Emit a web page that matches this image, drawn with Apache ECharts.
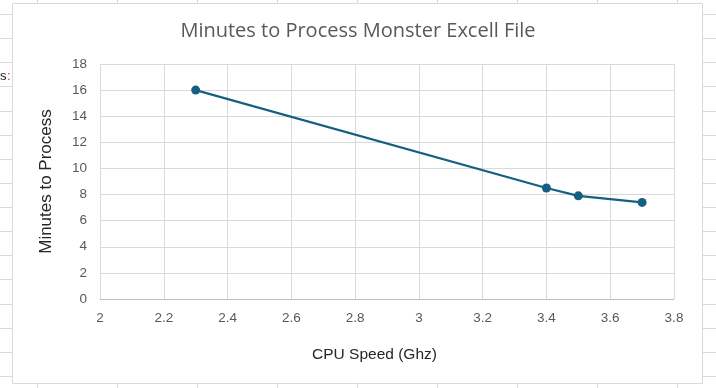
<!DOCTYPE html>
<html><head><meta charset="utf-8">
<script src="https://cdn.jsdelivr.net/npm/echarts@6/dist/echarts.min.js"></script>
<style>html,body{margin:0;padding:0;background:#fff;}#c{width:716px;height:388px;}</style>
</head><body><div id="c"></div>
<script>
var cpuSpeed = [2.3, 3.4, 3.5, 3.7];
var minutes = [16.0, 8.5, 7.9, 7.4];
var xTicks = [2, 2.2, 2.4, 2.6, 2.8, 3, 3.2, 3.4, 3.6, 3.8];
var yTicks = [0, 2, 4, 6, 8, 10, 12, 14, 16, 18];

var chart = echarts.init(document.getElementById('c'), null, {renderer: 'canvas'});

// spreadsheet background grid (only the parts outside the chart frame)
var bg = [];
for (var k = 0; k < 16; k++) {
  var yy = Math.round(14 + 24.13 * k) + 0.5;
  bg.push({type: 'line', silent: true, shape: {x1: 0, y1: yy, x2: 12, y2: yy}, style: {stroke: '#d9d9d9', lineWidth: 1}});
  bg.push({type: 'line', silent: true, shape: {x1: 703, y1: yy, x2: 716, y2: yy}, style: {stroke: '#d9d9d9', lineWidth: 1}});
}
for (var c = 0; c < 9; c++) {
  var xx = 37 + 80 * c + 0.5;
  bg.push({type: 'line', silent: true, shape: {x1: xx, y1: 0, x2: xx, y2: 3}, style: {stroke: '#d9d9d9', lineWidth: 1}});
  bg.push({type: 'line', silent: true, shape: {x1: xx, y1: 384, x2: xx, y2: 388}, style: {stroke: '#d9d9d9', lineWidth: 1}});
}
bg.push({type: 'text', silent: true, style: {x: 0, y: 70, text: 's', fill: '#222', font: '13px "Liberation Sans"'}});
bg.push({type: 'text', silent: true, style: {x: 7, y: 70, text: ':', fill: '#c0392b', font: '13px "Liberation Sans"'}});
bg.push({type: 'rect', silent: true, shape: {x: 12.5, y: 3.5, width: 690, height: 380}, style: {fill: 'none', stroke: '#d9d9d9', lineWidth: 1}});

chart.setOption({
  animation: false,
  backgroundColor: '#fff',
  graphic: bg,
  title: {
    text: 'Minutes to Process Monster Excell File',
    left: 'center', top: 16,
    textStyle: {fontFamily: 'Open Sans', fontSize: 20, fontWeight: 'normal', color: '#595959'}
  },
  grid: {left: 100, right: 42, top: 64, bottom: 89, containLabel: false},
  xAxis: {
    type: 'value', min: 2, max: 3.8, interval: 0.2,
    name: 'CPU Speed (Ghz)', nameLocation: 'middle', nameGap: 48,
    nameTextStyle: {fontFamily: 'Liberation Sans', fontSize: 15.5, color: '#262626', padding: [0, 25, 0, 0]},
    axisLine: {show: true, lineStyle: {color: '#bfbfbf'}},
    axisTick: {show: false},
    splitLine: {show: true, lineStyle: {color: '#d9d9d9'}},
    axisLabel: {
      margin: 12, fontFamily: 'Liberation Sans', fontSize: 13.5, color: '#595959',
      formatter: function (v) { var r = Math.round(v * 10) / 10; return xTicks.indexOf(r) >= 0 ? String(r) : ''; }
    }
  },
  yAxis: {
    type: 'value', min: 0, max: 18, interval: 2,
    name: 'Minutes to Process', nameLocation: 'middle', nameGap: 45, nameRotate: 90,
    nameTextStyle: {fontFamily: 'Liberation Sans', fontSize: 17, color: '#262626'},
    axisLine: {show: false},
    axisTick: {show: false},
    splitLine: {show: true, lineStyle: {color: '#d9d9d9'}},
    axisLabel: {
      margin: 13, fontFamily: 'Liberation Sans', fontSize: 13.5, color: '#595959',
      formatter: function (v) { return yTicks.indexOf(v) >= 0 ? String(v) : ''; }
    }
  },
  series: [{
    type: 'line',
    data: cpuSpeed.map(function (x, i) { return [x, minutes[i]]; }),
    symbol: 'circle', symbolSize: 9,
    lineStyle: {color: '#156082', width: 2.25},
    itemStyle: {color: '#156082'},
    z: 5
  }]
});
</script></body></html>
